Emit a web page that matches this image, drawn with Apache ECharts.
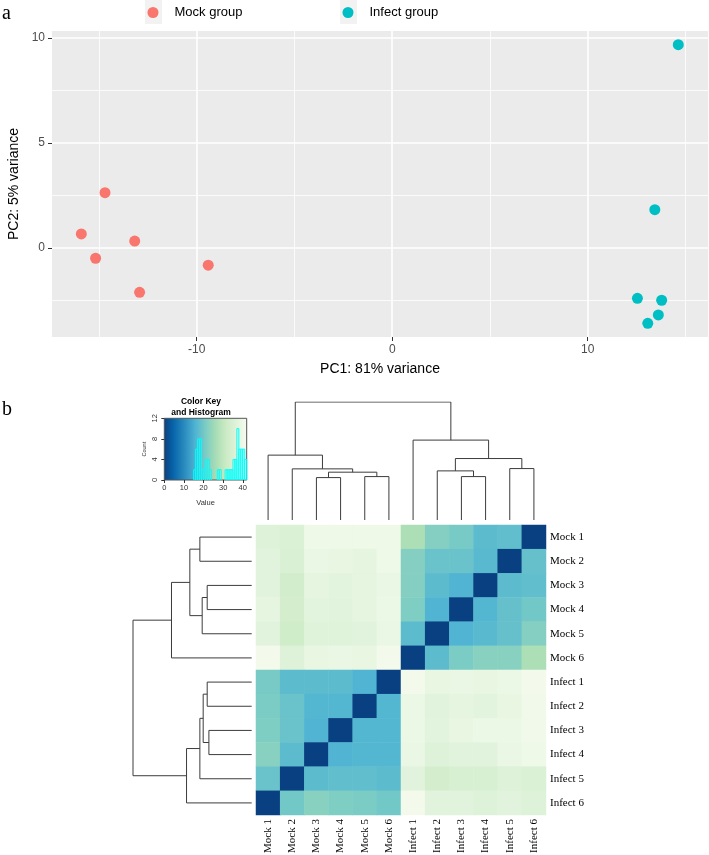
<!DOCTYPE html>
<html><head><meta charset="utf-8">
<script src="https://cdn.jsdelivr.net/npm/echarts@6/dist/echarts.min.js"></script>
<style>html,body{margin:0;padding:0;background:#fff}#c{width:709px;height:855px}</style>
</head><body><div id="c"></div><script>
// ---------- Panel a: PCA ----------
const mockPC1 = [-14.69, -15.90, -13.17, -15.17, -9.41, -12.92];
const mockPC2 = [2.63, 0.67, 0.33, -0.49, -0.82, -2.11];
const infectPC1 = [14.63, 13.43, 12.54, 13.78, 13.61, 13.07];
const infectPC2 = [9.68, 1.82, -2.40, -2.49, -3.19, -3.59];
const pc1Ticks = [-10, 0, 10];
const pc1Minor = [-15, -5, 5, 15];
const pc2Ticks = [0, 5, 10];
const pc2Minor = [-2.5, 2.5, 7.5];

// ---------- Panel b: sample distance heatmap ----------
const samples = ['Mock 1','Mock 2','Mock 3','Mock 4','Mock 5','Mock 6',
                 'Infect 1','Infect 2','Infect 3','Infect 4','Infect 5','Infect 6'];
const rowMock1   = [36, 35.5, 40, 40, 40, 40, 27, 22, 20.5, 17.5, 18, 0];
const rowMock2   = [37, 35, 39, 38.5, 38, 40, 22, 19, 19, 17, 0, 18.5];
const rowMock3   = [37, 33, 38, 37.5, 38, 39, 22, 17.5, 16, 0, 17.5, 18];
const rowMock4   = [38, 33.5, 37.5, 37, 38, 39.5, 21.5, 16, 0, 16.5, 18.5, 20];
const rowMock5   = [37, 32.5, 36.5, 36.5, 37, 39, 17.5, 0, 16, 17, 18.5, 22];
const rowMock6   = [41, 36, 38.5, 39, 38.5, 41, 0, 17.5, 21, 22.5, 22.5, 27];
const rowInfect1 = [20.5, 17.5, 17.5, 17.5, 16, 0, 41, 38.5, 39, 38.5, 39.5, 41];
const rowInfect2 = [21, 19, 16.5, 16.5, 0, 16.5, 39.5, 37, 38, 37.5, 38.5, 40.5];
const rowInfect3 = [21.5, 19, 16, 0, 16.5, 16.5, 39.5, 37.5, 38.5, 39.5, 39.5, 40.5];
const rowInfect4 = [22.5, 17.5, 0, 16, 16.5, 16.5, 39, 36, 37, 37, 39, 40];
const rowInfect5 = [19, 0, 17.5, 18, 18, 17.5, 37, 33.5, 34.5, 34.5, 36, 35.5];
const rowInfect6 = [0, 20, 22.5, 21.5, 21, 20, 41, 37, 37, 36, 37, 36];
const heatRows = [rowMock1,rowMock2,rowMock3,rowMock4,rowMock5,rowMock6,
                  rowInfect1,rowInfect2,rowInfect3,rowInfect4,rowInfect5,rowInfect6];

// dendrograms (hclust-style merges: negative = leaf position, positive = earlier merge)
const colMerges = [[-3,-4],[-5,-6],[-9,-10],[1,2],[-8,3],[-2,4],[-11,-12],[5,7],[-1,6],[-7,8],[9,10]];
const colHeights = [42.3, 43.3, 43.3, 47.7, 49, 51, 51.3, 61.3, 64.7, 79.7, 117.7];
const rowMerges = [[-9,-10],[-3,-4],[-7,-8],[3,1],[2,-5],[-1,-2],[4,-11],[6,5],[7,-12],[8,-6],[10,9]];
const rowHeights = [42.7, 44.4, 44.4, 48.4, 49.4, 51.7, 51.7, 61.7, 65, 80, 118.4];

// color key + histogram
const keyColors = ['#084081','#0868ac','#2b8cbe','#4eb3d3','#7bccc4','#a8ddb5','#ccebc5','#e0f3db','#f7fcf0'];
const keyMin = 0, keyMax = 42;
const keyXTicks = [0, 10, 20, 30, 40];
const keyYTicks = [0, 4, 8, 12];
const histStarts = [15,16,17,18,19,20,21,22,23,27,28,31,32,33,34,35,36,37,38,39,40,41];
const histCounts = [2, 6, 8, 8, 2, 2, 4, 4, 2, 2, 2, 2, 2, 2, 2, 4, 4, 10,6, 6, 6, 4];
const histBin = 1;

function dendroSegments(merges, heights) {
  const pos = [], hgt = [], segs = [];
  const get = idx => idx < 0 ? {p: -idx - 0.5, h: 0} : {p: pos[idx - 1], h: hgt[idx - 1]};
  merges.forEach((m, i) => {
    const a = get(m[0]), b = get(m[1]), h = heights[i];
    segs.push([[a.p, a.h], [a.p, h], [b.p, h], [b.p, b.h]]);
    pos.push((a.p + b.p) / 2); hgt.push(h);
  });
  return segs;
}
const colSegs = dendroSegments(colMerges, colHeights);
const rowSegs = dendroSegments(rowMerges, rowHeights).map(s => s.map(pt => [pt[1], pt[0]]));

const heatData = [];
heatRows.forEach((row, r) => row.forEach((v, c) => heatData.push([c, r, v])));

const chart = echarts.init(document.getElementById('c'), null, {renderer: 'canvas'});
const SANS = 'Liberation Sans', SERIF = 'Liberation Serif';
const legendBase = {orient:'horizontal', top:6, padding:0, icon:'circle', itemWidth:11, itemHeight:11,
  textStyle:{fontSize:13, fontFamily:SANS, color:'#000', padding:[0,0,0,11]}, selectedMode:false};
const noLine = {show:false, onZero:false};

chart.setOption({
  animation: false,
  legend: [
    Object.assign({left:147.5, data:['Mock group']}, legendBase),
    Object.assign({left:342.5, data:['Infect group']}, legendBase)
  ],
  grid: [
    {left:52, top:31, width:656, height:306, show:true, backgroundColor:'#EBEBEB', borderWidth:0, outerBoundsMode:'none'},
    {left:164.3, top:418.3, width:82.4, height:61.7, show:true, borderColor:'#555', borderWidth:1, outerBoundsMode:'none',
     backgroundColor: new echarts.graphic.LinearGradient(0,0,1,0, keyColors.map((c,i)=>({offset:i/(keyColors.length-1), color:c})))},
    {left:256, top:402, width:290, height:118, outerBoundsMode:'none'},
    {left:133, top:525, width:118.7, height:290, outerBoundsMode:'none'},
    {left:256, top:525, width:290, height:290, outerBoundsMode:'none'}
  ],
  xAxis: [
    {gridIndex:0, type:'value', min:-17.4, max:16.15, position:'bottom',
     axisLine:noLine,
     axisTick:{show:true, length:4, lineStyle:{color:'#333'}, customValues:pc1Ticks},
     axisLabel:{customValues:pc1Ticks, color:'#4D4D4D', fontSize:12, fontFamily:SANS, margin:7},
     splitLine:{show:true, lineStyle:{color:'#fff', width:1.6}},
     name:'PC1: 81% variance', nameLocation:'middle', nameGap:25,
     nameTextStyle:{color:'#000', fontSize:14, fontFamily:SANS}},
    {gridIndex:0, type:'value', min:-17.4, max:16.15, position:'bottom',
     axisLine:noLine, axisTick:{show:false, customValues:pc1Minor}, axisLabel:{show:false},
     splitLine:{show:true, lineStyle:{color:'#fff', width:0.8}}},
    {gridIndex:1, type:'value', min:keyMin, max:keyMax, position:'bottom',
     axisLine:noLine,
     axisTick:{show:true, length:3, lineStyle:{color:'#333'}, customValues:keyXTicks},
     axisLabel:{customValues:keyXTicks, fontSize:7.5, color:'#333', fontFamily:SANS, margin:4},
     splitLine:{show:false},
     name:'Value', nameLocation:'middle', nameGap:19, nameTextStyle:{fontSize:7.5, color:'#333', fontFamily:SANS}},
    {gridIndex:2, type:'value', min:0, max:samples.length, show:false},
    {gridIndex:3, type:'value', min:0, max:Math.max(...rowHeights), inverse:true, show:false},
    {gridIndex:4, type:'category', data:samples, position:'bottom',
     axisLine:noLine, axisTick:{show:false}, splitLine:{show:false},
     axisLabel:{rotate:90, fontFamily:SERIF, fontSize:11, color:'#000', margin:4, interval:0}}
  ],
  yAxis: [
    {gridIndex:0, type:'value', min:-4.24, max:10.33, position:'left',
     axisLine:noLine,
     axisTick:{show:true, length:4, lineStyle:{color:'#333'}, customValues:pc2Ticks},
     axisLabel:{customValues:pc2Ticks, color:'#4D4D4D', fontSize:12, fontFamily:SANS, margin:7},
     splitLine:{show:true, lineStyle:{color:'#fff', width:1.6}},
     name:'PC2: 5% variance', nameLocation:'middle', nameGap:27,
     nameTextStyle:{color:'#000', fontSize:14, fontFamily:SANS}},
    {gridIndex:0, type:'value', min:-4.24, max:10.33, position:'left',
     axisLine:noLine, axisTick:{show:false, customValues:pc2Minor}, axisLabel:{show:false},
     splitLine:{show:true, lineStyle:{color:'#fff', width:0.8}}},
    {gridIndex:1, type:'value', min:0, max:12, position:'left',
     axisLine:noLine,
     axisTick:{show:true, length:3, lineStyle:{color:'#333'}, customValues:keyYTicks},
     axisLabel:{customValues:keyYTicks, rotate:90, fontSize:7.5, color:'#333', fontFamily:SANS, margin:5},
     splitLine:{show:false},
     name:'Count', nameLocation:'middle', nameGap:17, nameTextStyle:{fontSize:5.5, color:'#333', fontFamily:SANS}},
    {gridIndex:2, type:'value', min:0, max:Math.max(...colHeights), show:false},
    {gridIndex:3, type:'value', min:0, max:samples.length, inverse:true, show:false},
    {gridIndex:4, type:'category', data:samples, inverse:true, position:'right',
     axisLine:noLine, axisTick:{show:false}, splitLine:{show:false},
     axisLabel:{fontFamily:SERIF, fontSize:11, color:'#000', margin:4, interval:0}}
  ],
  visualMap: {type:'continuous', show:false, min:keyMin, max:keyMax, seriesIndex:5,
    inRange:{color:keyColors}},
  series: [
    {name:'Mock group', type:'scatter', xAxisIndex:0, yAxisIndex:0, symbol:'circle', symbolSize:11,
     itemStyle:{color:'#F8766D', opacity:1}, data: mockPC1.map((x,i)=>[x, mockPC2[i]])},
    {name:'Infect group', type:'scatter', xAxisIndex:0, yAxisIndex:0, symbol:'circle', symbolSize:11,
     itemStyle:{color:'#00BFC4', opacity:1}, data: infectPC1.map((x,i)=>[x, infectPC2[i]])},
    {type:'custom', xAxisIndex:2, yAxisIndex:2, clip:true, z:5, silent:true,
     data: histStarts.map((s,i)=>[s, histCounts[i]]),
     renderItem: function(params, api) {
       const s = api.value(0), n = api.value(1);
       const p0 = api.coord([s, 0]), p1 = api.coord([s + histBin, n]);
       return {type:'rect', shape:{x:p0[0], y:p1[1], width:p1[0]-p0[0], height:p0[1]-p1[1]},
               style:{fill:'none', stroke:'#00FFFF', lineWidth:1}};
     }},
    {type:'lines', coordinateSystem:'cartesian2d', xAxisIndex:3, yAxisIndex:3, polyline:true, silent:true,
     lineStyle:{color:'#3c3c3c', width:1, opacity:1}, data: colSegs.map(c=>({coords:c}))},
    {type:'lines', coordinateSystem:'cartesian2d', xAxisIndex:4, yAxisIndex:4, polyline:true, silent:true,
     lineStyle:{color:'#3c3c3c', width:1, opacity:1}, data: rowSegs.map(c=>({coords:c}))},
    {type:'heatmap', xAxisIndex:5, yAxisIndex:5, data: heatData, silent:true, emphasis:{disabled:true}}
  ],
  graphic: {elements: [
    {type:'rect', left:145, top:0, z:0, shape:{width:17, height:24}, style:{fill:'#F2F2F2'}},
    {type:'rect', left:340, top:0, z:0, shape:{width:17, height:24}, style:{fill:'#F2F2F2'}},
    {type:'text', x:2, y:14, style:{text:'a', font:'20px "Liberation Serif"', fill:'#000', align:'left', verticalAlign:'middle'}},
    {type:'text', x:2, y:410, style:{text:'b', font:'20px "Liberation Serif"', fill:'#000', align:'left', verticalAlign:'middle'}},
    {type:'text', x:201, y:402, style:{text:'Color Key', font:'bold 8.5px "Liberation Sans"', fill:'#000', align:'center', verticalAlign:'middle'}},
    {type:'text', x:201, y:412.5, style:{text:'and Histogram', font:'bold 8.5px "Liberation Sans"', fill:'#000', align:'center', verticalAlign:'middle'}}
  ]}
});
</script></body></html>
